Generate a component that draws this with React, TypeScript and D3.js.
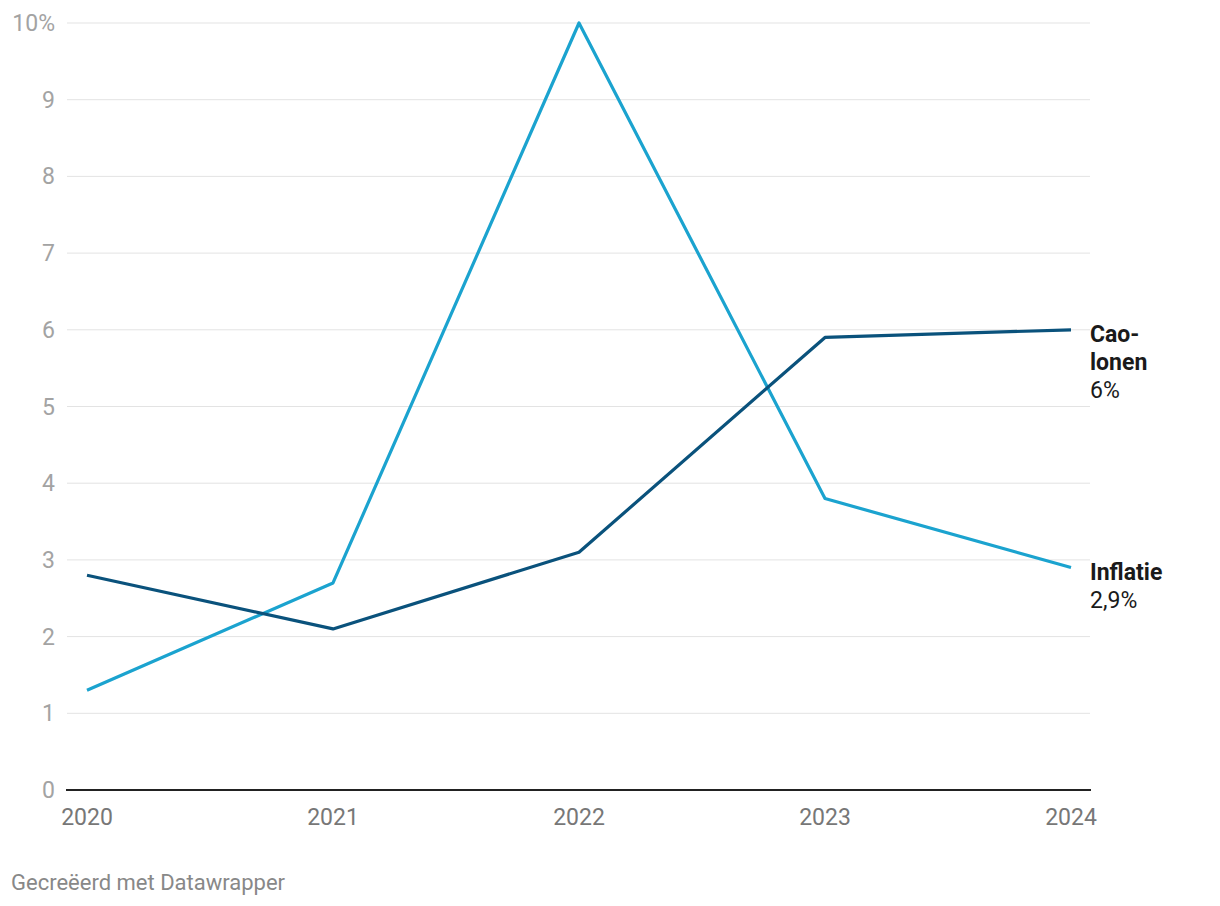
import React from "react";
import * as d3 from "d3";

const years = [2020, 2021, 2022, 2023, 2024];
const caoLonen = [2.8, 2.1, 3.1, 5.9, 6.0];
const inflatie = [1.3, 2.7, 10.0, 3.8, 2.9];
const yTicks = [0, 1, 2, 3, 4, 5, 6, 7, 8, 9, 10];

const W = 1220;
const H = 906;

export default function App() {
  const x = d3.scaleLinear().domain([2020, 2024]).range([87, 1071]);
  const y = d3.scaleLinear().domain([0, 10]).range([790, 23]);
  const line = d3
    .line<number>()
    .x((_, i) => x(years[i]))
    .y((d) => y(d));
  const font = "Roboto, 'Noto Sans', sans-serif";
  return (
    <svg
      width={W}
      height={H}
      style={{ position: "absolute", left: 0, top: 0, background: "#fff" }}
      fontFamily={font}
    >
      {yTicks.map((t) => (
        <g key={t}>
          {t > 0 && (
            <line x1={67} x2={1090} y1={y(t)} y2={y(t)} stroke="#e3e3e3" strokeWidth={1} />
          )}
          <text x={55} y={y(t)} dy="0.35em" textAnchor="end" fontSize={23} fill="#a3a3a3">
            {t === 10 ? "10%" : t}
          </text>
        </g>
      ))}
      <line x1={66} x2={1091} y1={y(0)} y2={y(0)} stroke="#222" strokeWidth={2} />
      {years.map((yr) => (
        <text key={yr} x={x(yr)} y={825} textAnchor="middle" fontSize={23} fill="#777">
          {yr}
        </text>
      ))}
      <path d={line(inflatie) || ""} fill="none" stroke="#1ba3cf" strokeWidth={3.2} strokeLinejoin="round" />
      <path d={line(caoLonen) || ""} fill="none" stroke="#0a527c" strokeWidth={3.2} strokeLinejoin="round" />
      <text x={1090} y={342} fontSize={23} fill="#1a1a1a">
        <tspan fontWeight="bold">Cao-</tspan>
        <tspan x={1090} dy={28} fontWeight="bold">lonen</tspan>
        <tspan x={1090} dy={28}>6%</tspan>
      </text>
      <text x={1090} y={580} fontSize={23} fill="#1a1a1a">
        <tspan fontWeight="bold">Inflatie</tspan>
        <tspan x={1090} dy={28}>2,9%</tspan>
      </text>
      <text x={11} y={890} fontSize={22} fill="#888">
        Gecreëerd met Datawrapper
      </text>
    </svg>
  );
}
